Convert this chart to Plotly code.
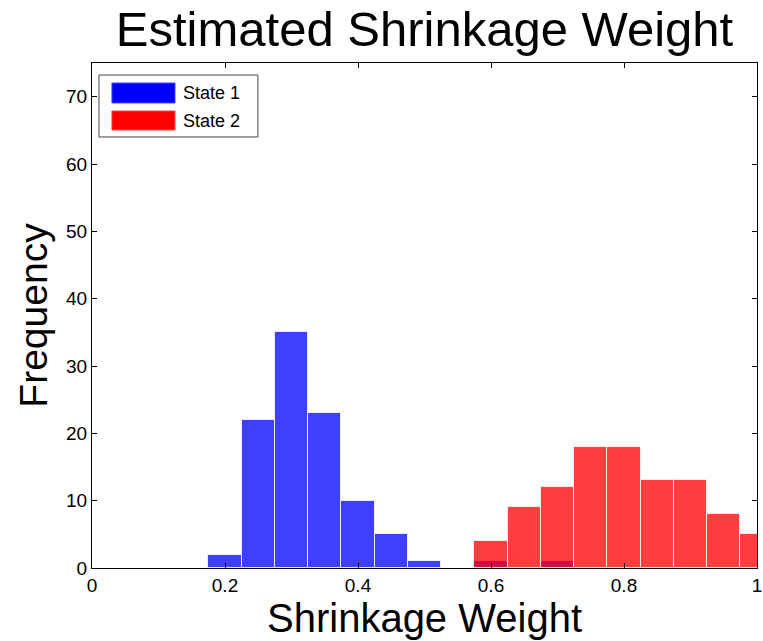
import plotly.graph_objects as go

bin_centers_1 = [0.2, 0.25, 0.3, 0.35, 0.4, 0.45, 0.5, 0.55, 0.6, 0.65, 0.7]
counts_1 = [2, 22, 35, 23, 10, 5, 1, 0, 1, 0, 1]
bin_centers_2 = [0.6, 0.65, 0.7, 0.75, 0.8, 0.85, 0.9, 0.95, 1.0]
counts_2 = [4, 9, 12, 18, 18, 13, 13, 8, 5]
bin_width = 0.05
x_ticks = [0, 0.2, 0.4, 0.6, 0.8, 1]
x_tick_labels = ["0", "0.2", "0.4", "0.6", "0.8", "1"]
y_ticks = [0, 10, 20, 30, 40, 50, 60, 70]
series_names = ["State 1", "State 2"]

FONT = "Liberation Sans, Arial, sans-serif"

fig = go.Figure()
fig.add_trace(go.Bar(x=bin_centers_1, y=counts_1, width=bin_width, name=series_names[0],
                     marker=dict(color="#0000FF", line=dict(color="rgba(255,255,255,0.8)", width=1)),
                     opacity=0.75, showlegend=False))
fig.add_trace(go.Bar(x=bin_centers_2, y=counts_2, width=bin_width, name=series_names[1],
                     marker=dict(color="#FF0000", line=dict(color="rgba(255,255,255,0.8)", width=1)),
                     opacity=0.75, showlegend=False))

# custom legend (box, swatches, labels) in paper coordinates
shapes = [
    dict(type="rect", xref="paper", yref="paper", x0=0.0105, x1=0.2495, y0=0.8535, y1=0.9762,
         line=dict(color="#444444", width=1), fillcolor="white", layer="above"),
    dict(type="rect", xref="paper", yref="paper", x0=0.0300, x1=0.1248, y0=0.9208, y1=0.9604,
         line=dict(color="#4444FF", width=1), fillcolor="#0000FF", layer="above"),
    dict(type="rect", xref="paper", yref="paper", x0=0.0300, x1=0.1248, y0=0.8673, y1=0.9050,
         line=dict(color="#FF4444", width=1), fillcolor="#FF0000", layer="above"),
]
annotations = [
    dict(text=series_names[0], xref="paper", yref="paper", x=0.1338, y=0.9406, xanchor="left",
         yanchor="middle", showarrow=False, font=dict(family=FONT, size=18, color="black")),
    dict(text=series_names[1], xref="paper", yref="paper", x=0.1338, y=0.8851, xanchor="left",
         yanchor="middle", showarrow=False, font=dict(family=FONT, size=18, color="black")),
]

fig.update_layout(
    width=763, height=641,
    margin=dict(l=92, r=6, t=63, b=73),
    paper_bgcolor="white", plot_bgcolor="white",
    barmode="overlay", bargap=0,
    title=dict(text="Estimated Shrinkage Weight", x=0.5, xref="paper", y=0.955, yref="container",
               xanchor="center", yanchor="middle", font=dict(family=FONT, size=49, color="black")),
    shapes=shapes, annotations=annotations,
    font=dict(family=FONT, color="black"),
)
fig.update_xaxes(range=[0, 1], tickvals=x_ticks, ticktext=x_tick_labels, ticks="inside", ticklen=5,
                 tickcolor="black", showline=True, linecolor="black", linewidth=1, mirror="ticks",
                 showgrid=False, zeroline=False, tickfont=dict(size=19), automargin=False,
                 ticklabeloverflow="allow",
                 title=dict(text="Shrinkage Weight", font=dict(size=40), standoff=0))
fig.update_yaxes(range=[0, 75], tickvals=y_ticks, ticks="inside", ticklen=5,
                 tickcolor="black", showline=True, linecolor="black", linewidth=1, mirror="ticks",
                 showgrid=False, zeroline=False, tickfont=dict(size=19), automargin=False,
                 ticklabeloverflow="allow",
                 title=dict(text="Frequency", font=dict(size=39), standoff=6))

fig.write_html("out.html", config={"displayModeBar": False},
               post_script="document.body.style.margin='0';document.body.style.overflow='hidden';")
